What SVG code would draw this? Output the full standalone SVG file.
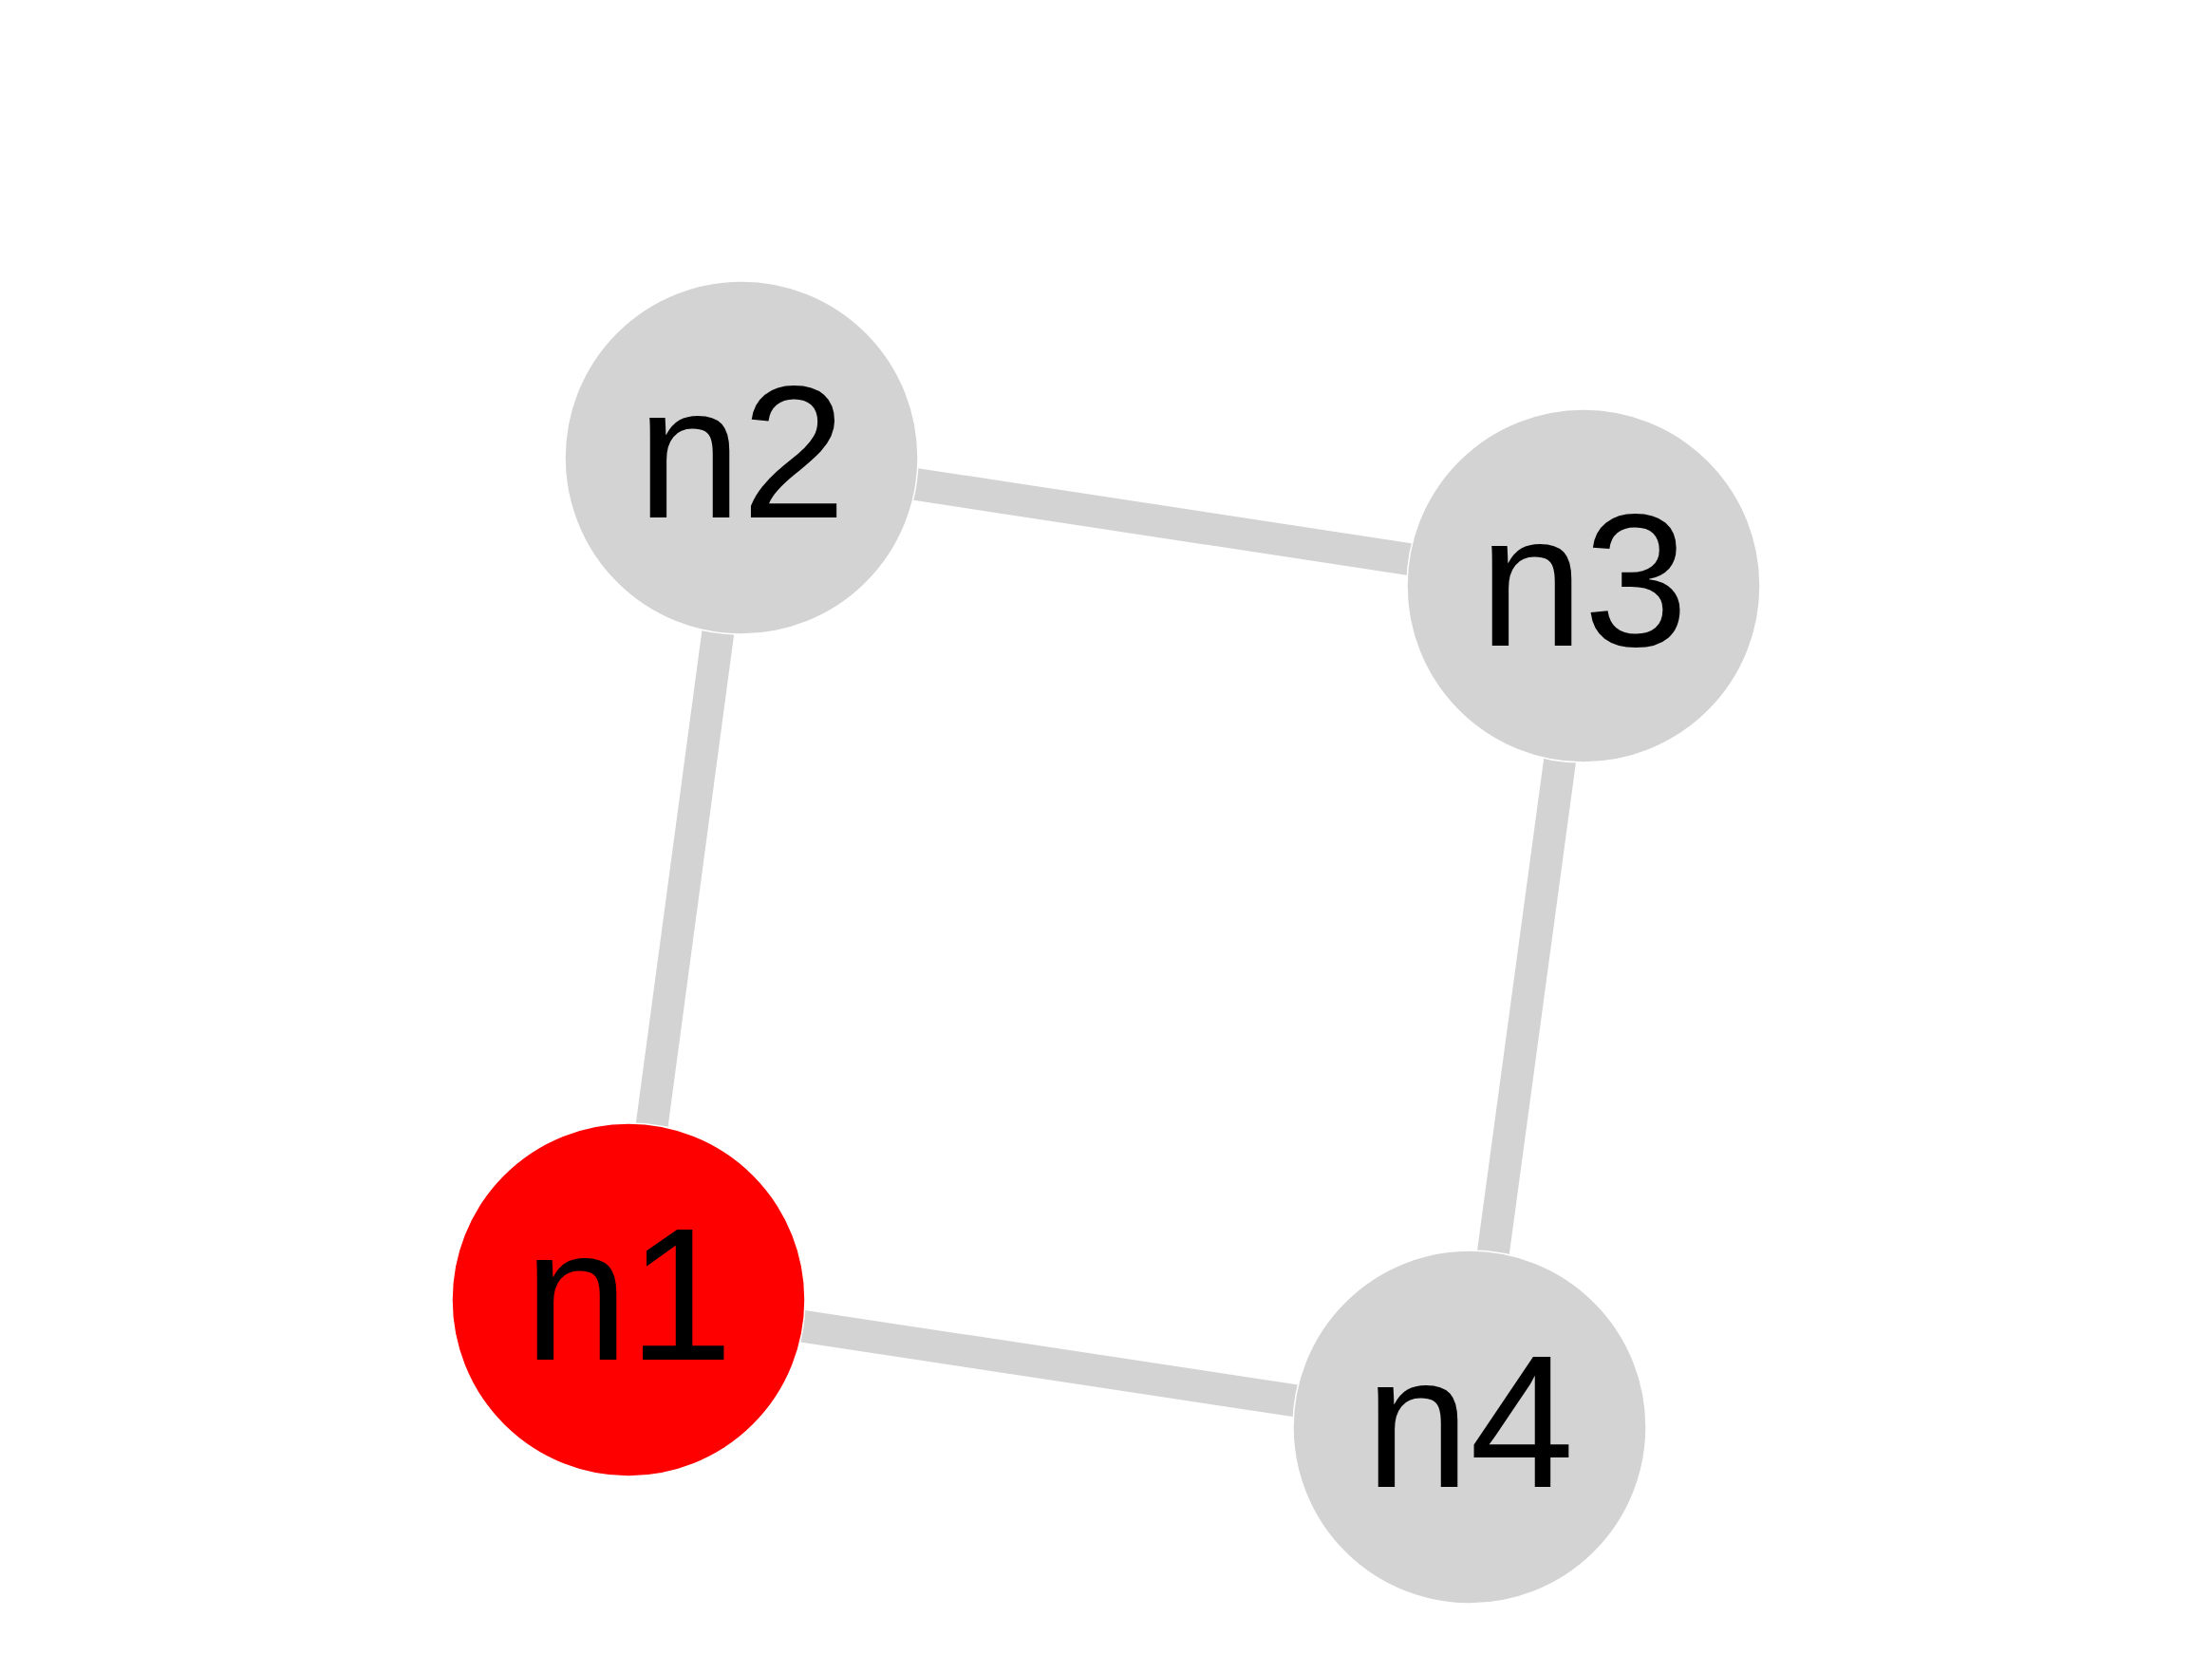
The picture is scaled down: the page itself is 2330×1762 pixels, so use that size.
<svg xmlns="http://www.w3.org/2000/svg" width="2330" height="1762" viewBox="0 0 2330 1762">
<style>
.edge{stroke:#d3d3d3;stroke-width:34;fill:none}
.node{fill:#d3d3d3;stroke:#ffffff;stroke-width:1.5}
.lbl{font-family:"Liberation Sans",Arial,sans-serif;font-size:198px;fill:#000000;text-anchor:middle}
</style>
<rect width="2330" height="1762" fill="#ffffff"/>
<g id="edges">
<line class="edge" x1="781" y1="482" x2="1668" y2="617"/>
<line class="edge" x1="781" y1="482" x2="662" y2="1369"/>
<line class="edge" x1="1668" y1="617" x2="1548" y2="1503"/>
<line class="edge" x1="662" y1="1369" x2="1548" y2="1503"/>
</g>
<g id="n1"><circle class="node" cx="662" cy="1369" r="186" style="fill:#ff0000"/><text class="lbl" x="662" y="1432">n1</text></g>
<g id="n2"><circle class="node" cx="781" cy="482" r="186"/><text class="lbl" x="781" y="545">n2</text></g>
<g id="n3"><circle class="node" cx="1668" cy="617" r="186"/><text class="lbl" x="1668" y="680">n3</text></g>
<g id="n4"><circle class="node" cx="1548" cy="1503" r="186"/><text class="lbl" x="1548" y="1566">n4</text></g>
</svg>
